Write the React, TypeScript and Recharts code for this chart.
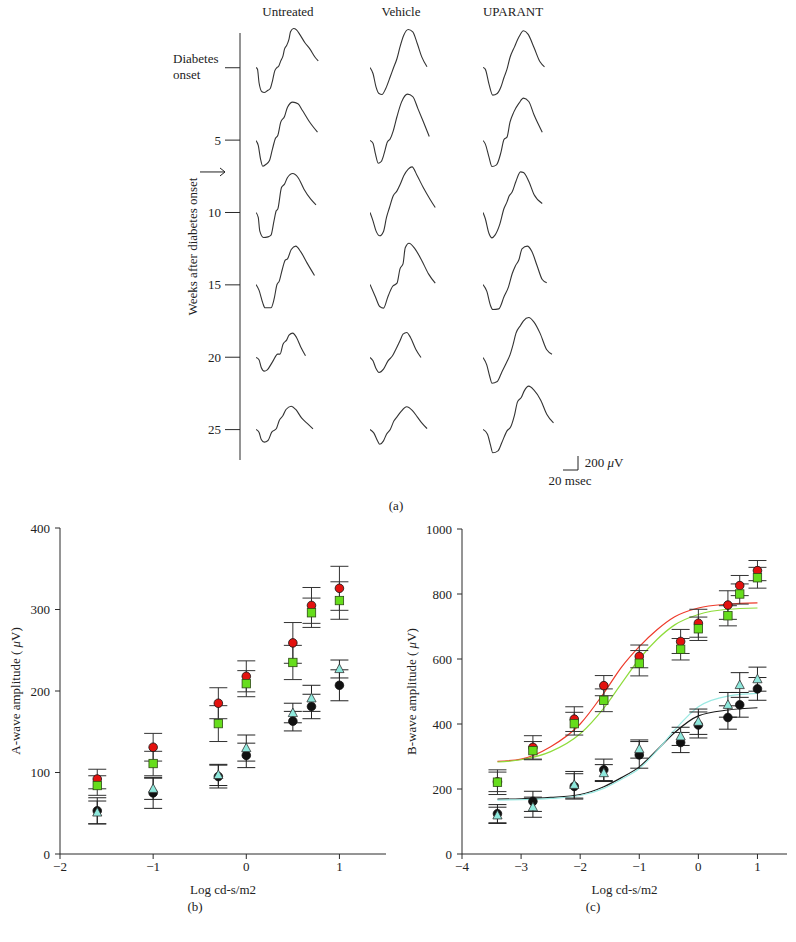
import React from 'react';
import {
  ScatterChart,
  ComposedChart,
  LineChart,
  Scatter,
  Line,
  XAxis,
  YAxis,
  ErrorBar,
} from 'recharts';

const FONT = '"Liberation Serif", "DejaVu Serif", serif';
const INK = '#2a2a2a';

// ---- panel (a): ERG traces ----
const GROUPS = ['Untreated', 'Vehicle', 'UPARANT'];
const WEEKS = [0, 5, 10, 15, 20, 25];
const ARROW_WEEK = 7.2;

type Pt = [number, number]; // [msec, µV]

const UNTREATED: Pt[][] = [
  [[0,0],[2,-24],[4,-214],[8,-347],[11,-357],[15,-333],[19,-300],[22,-190],[25,-48],[28,0],[30,14],[33,95],[36,167],[38,262],[41,319],[44,405],[46,510],[50,557],[54,538],[59,462],[65,357],[72,262],[79,143],[83,95]],
  [[0,0],[3,-71],[6,-262],[9,-367],[13,-343],[18,-286],[22,-119],[26,33],[29,71],[33,262],[38,343],[42,476],[49,548],[56,524],[62,428],[71,271],[82,119]],
  [[0,0],[3,-71],[5,-262],[10,-357],[16,-348],[20,-324],[24,-119],[27,24],[29,48],[34,357],[38,405],[42,500],[49,557],[56,500],[64,333],[73,190],[80,110]],
  [[0,0],[4,-81],[9,-262],[12,-333],[20,-333],[24,-214],[28,0],[31,48],[35,214],[39,348],[42,367],[47,500],[53,548],[60,462],[68,309],[78,129]],
  [[0,0],[4,-33],[7,-143],[11,-195],[15,-176],[22,-62],[29,48],[32,48],[36,190],[41,252],[44,319],[49,348],[54,286],[60,143],[66,24]],
  [[0,0],[4,-38],[7,-143],[11,-181],[16,-157],[21,-38],[27,10],[31,129],[36,200],[40,286],[47,333],[53,286],[61,162],[69,81],[76,10]],
];

const VEHICLE: Pt[][] = [
  [[0,0],[4,-86],[8,-276],[12,-371],[16,-386],[21,-300],[27,-133],[31,-14],[36,129],[40,295],[45,462],[51,543],[57,509],[63,343],[69,152],[76,10]],
  [[0,0],[4,-38],[7,-181],[11,-324],[15,-300],[19,-181],[23,-24],[27,24],[31,138],[36,343],[42,548],[50,662],[57,628],[64,452],[71,271],[79,57]],
  [[0,0],[4,-119],[8,-262],[13,-333],[18,-271],[22,-71],[26,71],[31,238],[36,309],[40,395],[45,524],[51,619],[56,652],[63,524],[71,357],[80,190],[87,71]],
  [[0,0],[7,-171],[13,-314],[18,-338],[24,-171],[30,-29],[36,19],[40,224],[44,295],[47,524],[52,590],[60,509],[69,343],[78,152],[87,19]],
  [[0,0],[4,-48],[8,-157],[12,-214],[18,-167],[24,-48],[30,24],[35,129],[40,238],[44,333],[49,357],[54,286],[61,119],[68,0]],
  [[0,0],[5,-48],[10,-162],[13,-210],[18,-162],[22,-67],[27,0],[32,124],[36,181],[41,252],[49,324],[56,276],[63,181],[69,95],[76,14]],
];

const UPARANT: Pt[][] = [
  [[0,0],[3,-24],[8,-238],[13,-395],[19,-371],[24,-276],[28,-143],[32,-24],[36,143],[42,295],[48,438],[54,524],[60,476],[68,286],[76,81],[82,10]],
  [[0,0],[3,-48],[8,-238],[12,-371],[18,-348],[24,-167],[28,14],[32,48],[36,262],[41,405],[48,533],[54,605],[61,557],[68,367],[79,119]],
  [[0,0],[3,-86],[8,-300],[12,-362],[16,-324],[22,-181],[28,57],[32,152],[35,238],[39,295],[44,447],[50,581],[54,571],[61,447],[68,257],[79,129]],
  [[0,0],[5,-95],[10,-300],[13,-357],[21,-348],[28,-176],[34,-33],[39,157],[43,262],[48,357],[52,510],[59,548],[65,476],[72,271],[79,71],[85,24]],
  [[0,0],[5,-105],[9,-271],[12,-367],[19,-343],[25,-210],[32,-57],[36,38],[40,181],[44,348],[50,457],[54,524],[61,571],[68,505],[76,348],[85,110],[92,48]],
  [[0,0],[6,-67],[10,-224],[13,-333],[20,-305],[25,-190],[32,-19],[37,38],[42,205],[46,395],[51,457],[55,552],[61,619],[68,562],[77,419],[85,219],[94,95]],
];

// ---- panel (b): A-wave ----
const A_X = [-1.6, -1, -0.3, 0, 0.5, 0.7, 1];
const A_RED = [92, 131, 185, 218, 259, 305, 326];
const A_RED_ERR = [12, 17, 19, 19, 25, 22, 27];
const A_GREEN = [84, 111, 160, 209, 235, 296, 311];
const A_GREEN_ERR = [12, 15, 22, 16, 21, 18, 23];
const A_BLACK = [53, 75, 95, 121, 163, 181, 207];
const A_BLACK_ERR = [16, 19, 14, 15, 12, 15, 19];
const A_CYAN = [51, 80, 97, 130, 173, 191, 227];
const A_CYAN_ERR = [14, 13, 13, 16, 12, 16, 11];

// ---- panel (c): B-wave ----
const B_X = [-3.4, -2.8, -2.1, -1.6, -1, -0.3, 0, 0.5, 0.7, 1];
const B_RED = [222, 328, 415, 518, 608, 654, 710, 766, 826, 872];
const B_RED_ERR = [30, 36, 38, 31, 35, 37, 43, 44, 31, 31];
const B_GREEN = [221, 318, 401, 473, 587, 630, 693, 733, 800, 850];
const B_GREEN_ERR = [38, 28, 35, 35, 39, 33, 36, 31, 31, 32];
const B_BLACK = [124, 162, 208, 259, 305, 343, 397, 420, 459, 508];
const B_BLACK_ERR = [28, 31, 39, 33, 41, 31, 40, 36, 38, 35];
const B_CYAN = [119, 144, 213, 249, 323, 362, 407, 459, 520, 538];
const B_CYAN_ERR = [25, 31, 41, 26, 28, 28, 39, 38, 38, 37];

// fitted curves
const FIT_X = [-3.4, -3, -2.5, -2, -1.6, -1.3, -1, -0.7, -0.4, 0, 0.5, 1];
const FIT_RED = [285, 292, 330, 400, 495, 575, 638, 690, 730, 757, 769, 773];
const FIT_GREEN = [283, 290, 315, 370, 449, 525, 600, 660, 705, 737, 753, 757];
const FIT_BLACK = [169, 170, 174, 183, 207, 235, 268, 320, 374, 425, 443, 450];
const FIT_CYAN = [166, 167, 171, 180, 202, 230, 263, 318, 382, 453, 486, 494];

const RED = '#e3120f';
const GREEN = '#66dd1c';
const CYAN = '#8ee8dc';
const BLACK = '#111';

// trace scale (same as the 20 msec / 200 µV scale bar)
const PX_PER_MS = 0.75;
const PX_PER_UV = 0.07;
const T_MAX = 100;
const UV_MIN = -450;
const UV_MAX = 750;

// week axis geometry
const AX_TOP = 33;
const AX_BOTTOM = 460;
const WEEK_DOMAIN: [number, number] = [-2.4, 27.1];
const weekY = (w: number) =>
  AX_TOP + ((w - WEEK_DOMAIN[0]) / (WEEK_DOMAIN[1] - WEEK_DOMAIN[0])) * (AX_BOTTOM - AX_TOP);
const COLUMN_X = [256, 370, 483];
const HEADER_X = [288, 401, 513];

const mk = (xs: number[], ys: number[], errs: number[]) =>
  xs.map((x, i) => ({ x, y: ys[i], err: errs[i] }));
const mkLine = (xs: number[], ys: number[]) => xs.map((x, i) => ({ x, y: ys[i] }));

const circle = (fill: string) => (p: any) => (
  <circle cx={p.cx} cy={p.cy} r={4.3} fill={fill} stroke="#111" strokeWidth={0.8} />
);
const square = (p: any) => (
  <rect x={p.cx - 4.2} y={p.cy - 4.2} width={8.4} height={8.4} fill={GREEN} stroke="#2d4a14" strokeWidth={0.8} />
);
const triangle = (p: any) => (
  <polygon
    points={`${p.cx},${p.cy - 5} ${p.cx + 4.6},${p.cy + 3.6} ${p.cx - 4.6},${p.cy + 3.6}`}
    fill={CYAN}
    stroke="#333"
    strokeWidth={0.8}
  />
);

const tickStyle = { fill: '#222', fontSize: 13, fontFamily: FONT };

const ampLabel = (name: string, x: number) => (props: any) => {
  const vb = props.viewBox || {};
  const cy = vb.y + vb.height / 2;
  return (
    <text
      x={x}
      y={cy}
      transform={`rotate(-90 ${x} ${cy})`}
      textAnchor="middle"
      dominantBaseline="central"
      fill="#222"
      fontSize={13}
      fontFamily={FONT}
    >
      {name} ( <tspan fontStyle="italic">μ</tspan>V)
    </text>
  );
};

const WeekTick = (props: any) => {
  const { x, y, payload } = props;
  if (payload.value === 0) {
    return (
      <text fill="#222" fontSize={13} fontFamily={FONT}>
        <tspan x={x - 48} y={y - 9} dominantBaseline="central">Diabetes</tspan>
        <tspan x={x - 48} y={y + 7} dominantBaseline="central">onset</tspan>
      </text>
    );
  }
  return (
    <text x={x} y={y} textAnchor="end" dominantBaseline="central" fill="#222" fontSize={13} fontFamily={FONT}>
      {payload.value}
    </text>
  );
};

const arrowShape = (p: any) => (
  <g stroke="#222" strokeWidth={1} fill="none">
    <line x1={p.cx - 40} y1={p.cy} x2={p.cx - 15} y2={p.cy} />
    <polyline points={`${p.cx - 20},${p.cy - 4} ${p.cx - 15},${p.cy} ${p.cx - 20},${p.cy + 4}`} />
  </g>
);

function Trace({ pts, left, baseline }: { pts: Pt[]; left: number; baseline: number }) {
  const data = pts.map(([t, v]) => ({ t, v }));
  const w = T_MAX * PX_PER_MS;
  const h = (UV_MAX - UV_MIN) * PX_PER_UV;
  return (
    <div style={{ position: 'absolute', left, top: baseline - UV_MAX * PX_PER_UV }}>
      <LineChart width={w} height={h} data={data} margin={{ top: 0, right: 0, bottom: 0, left: 0 }}>
        <XAxis type="number" dataKey="t" domain={[0, T_MAX]} hide />
        <YAxis type="number" domain={[UV_MIN, UV_MAX]} hide />
        <Line
          type="monotone"
          dataKey="v"
          stroke="#333"
          strokeWidth={1.1}
          dot={false}
          isAnimationActive={false}
        />
      </LineChart>
    </div>
  );
}

const text = (s: React.ReactNode, left: number, top: number, extra: React.CSSProperties = {}) => (
  <div
    style={{
      position: 'absolute',
      left,
      top,
      transform: 'translate(-50%, -50%)',
      fontSize: 13,
      color: '#222',
      whiteSpace: 'nowrap',
      ...extra,
    }}
  >
    {s}
  </div>
);

export default function App() {
  const columns = [UNTREATED, VEHICLE, UPARANT];
  return (
    <div
      style={{
        position: 'absolute',
        left: 0,
        top: 0,
        width: 796,
        height: 942,
        background: '#fff',
        fontFamily: FONT,
        overflow: 'hidden',
      }}
    >
      {/* panel (a) */}
      {GROUPS.map((g, i) => (
        <React.Fragment key={g}>{text(g, HEADER_X[i], 12)}</React.Fragment>
      ))}

      <div style={{ position: 'absolute', left: 130, top: AX_TOP - 10 }}>
        <ScatterChart width={130} height={AX_BOTTOM - AX_TOP + 20} margin={{ top: 10, right: 0, bottom: 10, left: 0 }}>
          <XAxis type="number" dataKey="x" domain={[0, 1]} hide />
          <YAxis
            type="number"
            dataKey="week"
            domain={WEEK_DOMAIN}
            ticks={WEEKS}
            reversed
            width={110}
            tickSize={15}
            tickMargin={4}
            tick={<WeekTick />}
            axisLine={{ stroke: INK }}
            tickLine={{ stroke: INK }}
            label={(props: any) => {
              const vb = props.viewBox || {};
              const cx = 62;
              const cy = vb.y + vb.height / 2;
              return (
                <text
                  x={cx}
                  y={cy}
                  transform={`rotate(-90 ${cx} ${cy})`}
                  textAnchor="middle"
                  dominantBaseline="central"
                  fill="#222"
                  fontSize={13}
                  fontFamily={FONT}
                >
                  Weeks after diabetes onset
                </text>
              );
            }}
          />
          <Scatter data={[{ x: 0, week: ARROW_WEEK }]} shape={arrowShape} isAnimationActive={false} />
        </ScatterChart>
      </div>

      {columns.map((col, ci) =>
        col.map((pts, ri) => (
          <Trace key={`${ci}-${ri}`} pts={pts} left={COLUMN_X[ci]} baseline={weekY(WEEKS[ri])} />
        )),
      )}

      {/* scale bar */}
      <svg style={{ position: 'absolute', left: 540, top: 450 }} width={90} height={40}>
        <g stroke="#222" strokeWidth={1} fill="none">
          <line x1={38 - 20 * PX_PER_MS} y1={20} x2={38} y2={20} />
          <line x1={38} y1={20 - 200 * PX_PER_UV} x2={38} y2={20} />
        </g>
      </svg>
      {text(
        <span>
          200 <i>μ</i>V
        </span>,
        604,
        463,
      )}
      {text('20 msec', 570, 481)}
      {text('(a)', 396, 506)}

      {/* panel (b) */}
      <div style={{ position: 'absolute', left: 0, top: 510 }}>
        <ScatterChart width={400} height={400} margin={{ top: 18, right: 14, bottom: 16, left: 10 }}>
          <XAxis
            type="number"
            dataKey="x"
            domain={[-2, 1.5]}
            ticks={[-2, -1, 0, 1]}
            tickFormatter={(v: number) => (v < 0 ? `\u2212${Math.abs(v)}` : `${v}`)}
            height={40}
            tickSize={5}
            tickMargin={3}
            tick={tickStyle}
            axisLine={{ stroke: INK }}
            tickLine={{ stroke: INK }}
            label={{ value: 'Log cd-s/m2', position: 'insideBottom', offset: 0, fill: '#222', fontSize: 13, fontFamily: FONT }}
          />
          <YAxis
            type="number"
            dataKey="y"
            domain={[0, 400]}
            ticks={[0, 100, 200, 300, 400]}
            width={50}
            tickSize={5}
            tickMargin={5}
            tick={tickStyle}
            axisLine={{ stroke: INK }}
            tickLine={{ stroke: INK }}
            label={ampLabel('A-wave amplitude', 15)}
          />
          <Scatter data={mk(A_X, A_RED, A_RED_ERR)} shape={circle(RED)} isAnimationActive={false}>
            <ErrorBar dataKey="err" direction="y" width={9} stroke="#333" strokeWidth={1} />
          </Scatter>
          <Scatter data={mk(A_X, A_GREEN, A_GREEN_ERR)} shape={square} isAnimationActive={false}>
            <ErrorBar dataKey="err" direction="y" width={9} stroke="#333" strokeWidth={1} />
          </Scatter>
          <Scatter data={mk(A_X, A_BLACK, A_BLACK_ERR)} shape={circle(BLACK)} isAnimationActive={false}>
            <ErrorBar dataKey="err" direction="y" width={9} stroke="#222" strokeWidth={1} />
          </Scatter>
          <Scatter data={mk(A_X, A_CYAN, A_CYAN_ERR)} shape={triangle} isAnimationActive={false}>
            <ErrorBar dataKey="err" direction="y" width={9} stroke="#222" strokeWidth={1} />
          </Scatter>
        </ScatterChart>
      </div>
      {text('(b)', 195, 907)}

      {/* panel (c) */}
      <div style={{ position: 'absolute', left: 400, top: 510 }}>
        <ComposedChart width={396} height={400} margin={{ top: 19, right: 9, bottom: 16, left: 12 }}>
          <XAxis
            type="number"
            dataKey="x"
            domain={[-4, 1.5]}
            ticks={[-4, -3, -2, -1, 0, 1]}
            tickFormatter={(v: number) => (v < 0 ? `\u2212${Math.abs(v)}` : `${v}`)}
            height={40}
            tickSize={5}
            tickMargin={3}
            tick={tickStyle}
            axisLine={{ stroke: INK }}
            tickLine={{ stroke: INK }}
            allowDuplicatedCategory={false}
            label={{ value: 'Log cd-s/m2', position: 'insideBottom', offset: 0, fill: '#222', fontSize: 13, fontFamily: FONT }}
          />
          <YAxis
            type="number"
            dataKey="y"
            domain={[0, 1000]}
            ticks={[0, 200, 400, 600, 800, 1000]}
            width={50}
            tickSize={5}
            tickMargin={5}
            tick={tickStyle}
            axisLine={{ stroke: INK }}
            tickLine={{ stroke: INK }}
            label={ampLabel('B-wave amplitude', 11)}
          />
          <Line data={mkLine(FIT_X, FIT_RED)} dataKey="y" type="monotone" stroke="#ee3a2a" strokeWidth={1.2} dot={false} isAnimationActive={false} />
          <Line data={mkLine(FIT_X, FIT_GREEN)} dataKey="y" type="monotone" stroke="#8fdc3c" strokeWidth={1.2} dot={false} isAnimationActive={false} />
          <Line data={mkLine(FIT_X, FIT_BLACK)} dataKey="y" type="monotone" stroke="#1a1a1a" strokeWidth={1.2} dot={false} isAnimationActive={false} />
          <Line data={mkLine(FIT_X, FIT_CYAN)} dataKey="y" type="monotone" stroke="#9ae9e2" strokeWidth={1.2} dot={false} isAnimationActive={false} />
          <Scatter data={mk(B_X, B_RED, B_RED_ERR)} shape={circle(RED)} isAnimationActive={false}>
            <ErrorBar dataKey="err" direction="y" width={9} stroke="#333" strokeWidth={1} />
          </Scatter>
          <Scatter data={mk(B_X, B_GREEN, B_GREEN_ERR)} shape={square} isAnimationActive={false}>
            <ErrorBar dataKey="err" direction="y" width={9} stroke="#333" strokeWidth={1} />
          </Scatter>
          <Scatter data={mk(B_X, B_BLACK, B_BLACK_ERR)} shape={circle(BLACK)} isAnimationActive={false}>
            <ErrorBar dataKey="err" direction="y" width={9} stroke="#222" strokeWidth={1} />
          </Scatter>
          <Scatter data={mk(B_X, B_CYAN, B_CYAN_ERR)} shape={triangle} isAnimationActive={false}>
            <ErrorBar dataKey="err" direction="y" width={9} stroke="#222" strokeWidth={1} />
          </Scatter>
        </ComposedChart>
      </div>
      {text('(c)', 593, 907)}
    </div>
  );
}
